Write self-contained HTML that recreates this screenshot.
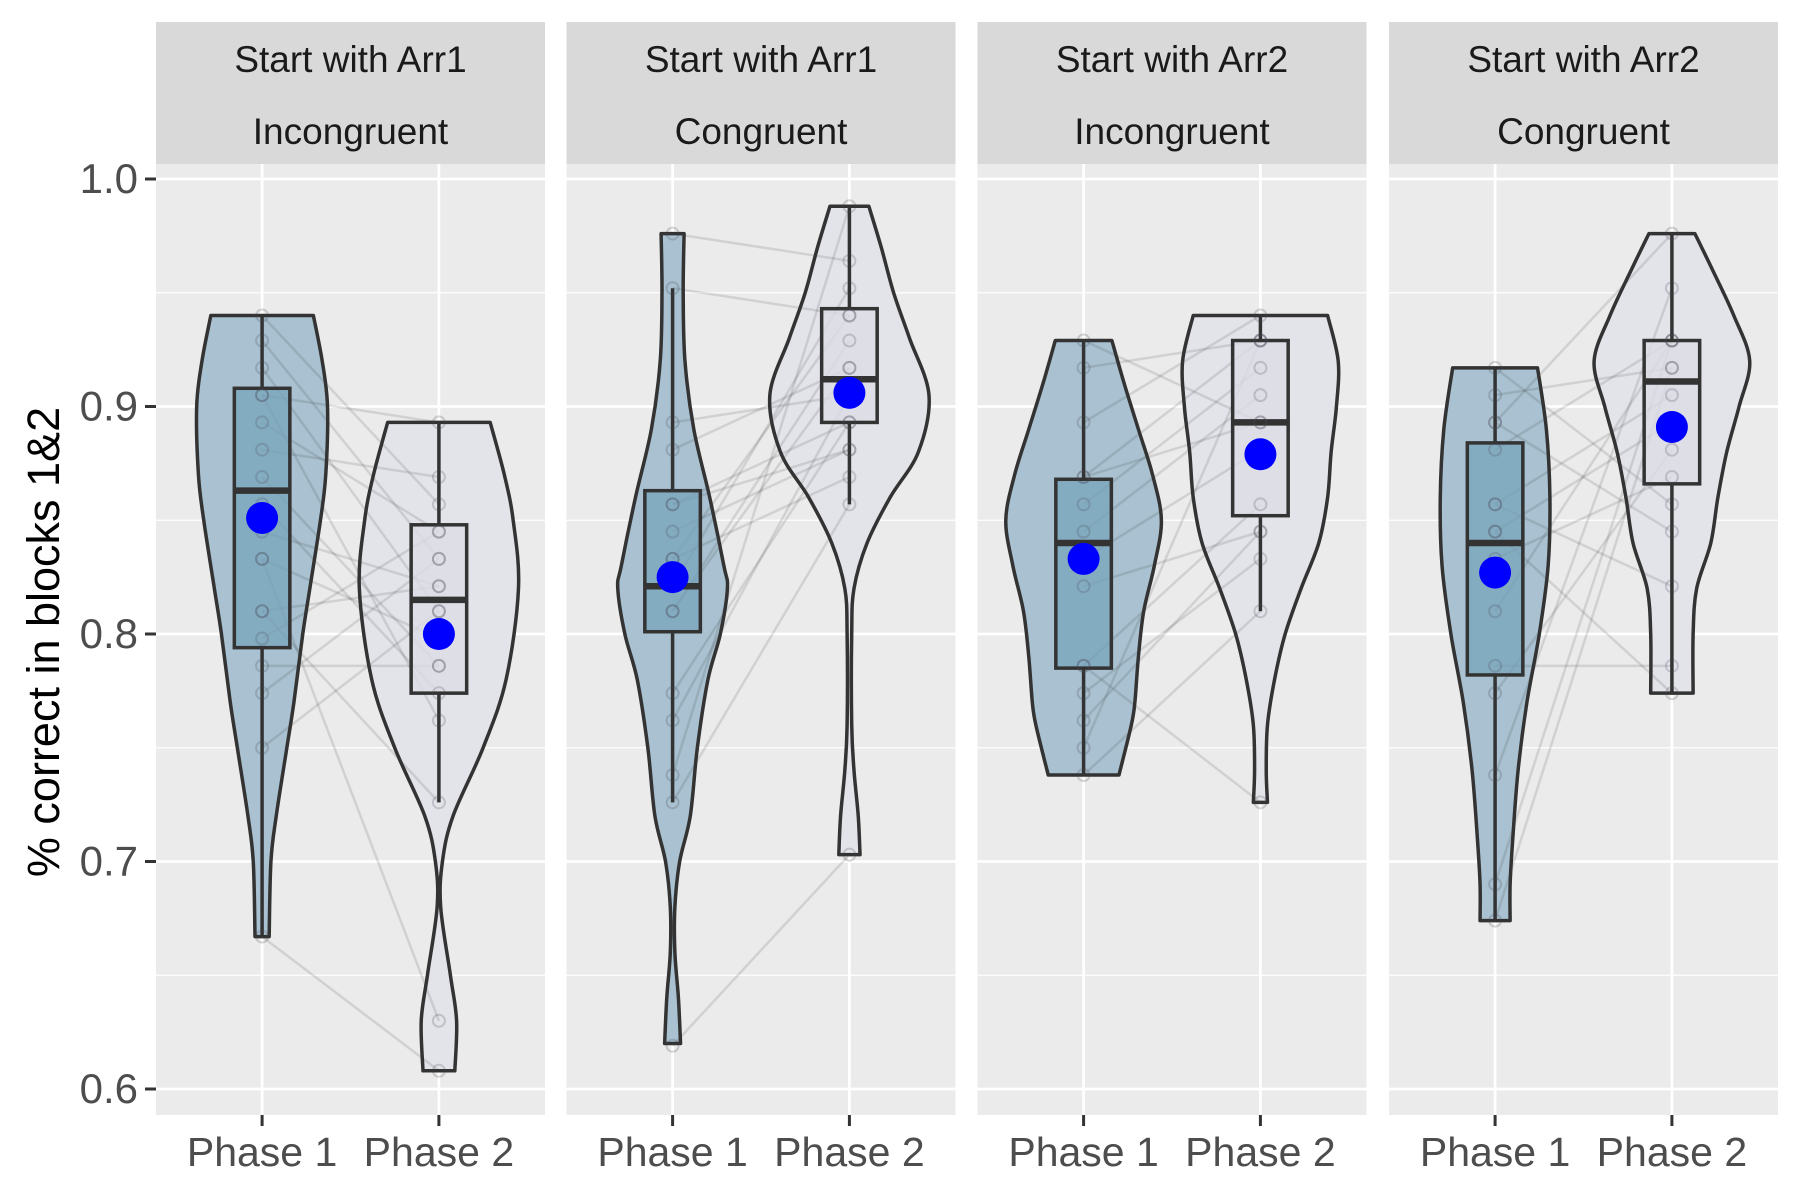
<!DOCTYPE html>
<html><head><meta charset="utf-8"><style>
html,body{margin:0;padding:0;background:#fff;}
svg{display:block;font-family:"Liberation Sans",Arial,sans-serif;}
</style></head><body>
<svg id="chart" width="1800" height="1200" viewBox="0 0 1800 1200" xmlns="http://www.w3.org/2000/svg"></svg>
<script>
const panelTitles1 = ["Start with Arr1","Start with Arr1","Start with Arr2","Start with Arr2"];
const panelTitles2 = ["Incongruent","Congruent","Incongruent","Congruent"];
const phases = ["Phase 1","Phase 2"];
const yTicks = [0.6,0.7,0.8,0.9,1.0];
const yTickLabels = ["0.6","0.7","0.8","0.9","1.0"];
// violin outlines: [value, half-width in category units]
const violinP1 = [
 [[0.94,0.29],[0.92,0.34],[0.90,0.37],[0.87,0.36],[0.85,0.33],[0.82,0.27],[0.80,0.23],[0.77,0.18],[0.75,0.14],[0.72,0.08],[0.70,0.05],[0.667,0.04]],
 [[0.976,0.065],[0.95,0.06],[0.92,0.07],[0.89,0.12],[0.86,0.21],[0.83,0.29],[0.82,0.31],[0.80,0.27],[0.78,0.2],[0.75,0.14],[0.72,0.1],[0.70,0.04],[0.68,0.013],[0.66,0.013],[0.64,0.033],[0.62,0.045]],
 [[0.929,0.16],[0.91,0.23],[0.89,0.31],[0.87,0.39],[0.85,0.44],[0.83,0.4],[0.81,0.34],[0.79,0.31],[0.77,0.29],[0.76,0.27],[0.738,0.2]],
 [[0.917,0.24],[0.89,0.29],[0.86,0.31],[0.83,0.3],[0.80,0.25],[0.77,0.18],[0.74,0.13],[0.71,0.1],[0.69,0.085],[0.674,0.085]]
];
const violinP2 = [
 [[0.893,0.29],[0.87,0.37],[0.85,0.42],[0.82,0.45],[0.78,0.38],[0.75,0.25],[0.72,0.08],[0.70,0.02],[0.68,0.01],[0.65,0.065],[0.63,0.1],[0.608,0.09]],
 [[0.988,0.11],[0.97,0.18],[0.95,0.25],[0.93,0.34],[0.905,0.45],[0.88,0.39],[0.86,0.23],[0.84,0.1],[0.82,0.026],[0.80,0.013],[0.76,0.013],[0.74,0.026],[0.72,0.05],[0.703,0.06]],
 [[0.94,0.38],[0.92,0.44],[0.90,0.43],[0.88,0.4],[0.86,0.38],[0.84,0.33],[0.82,0.23],[0.80,0.14],[0.78,0.08],[0.76,0.04],[0.74,0.033],[0.726,0.04]],
 [[0.976,0.13],[0.96,0.23],[0.94,0.35],[0.92,0.44],[0.90,0.38],[0.88,0.31],[0.86,0.26],[0.84,0.22],[0.82,0.14],[0.80,0.12],[0.774,0.12]]
];
// box stats: [lowWhisker, q1, median, q3, highWhisker]
const boxP1 = [[0.667,0.794,0.863,0.908,0.94],[0.726,0.801,0.821,0.863,0.952],[0.738,0.785,0.84,0.868,0.929],[0.674,0.782,0.84,0.884,0.917]];
const boxP2 = [[0.726,0.774,0.815,0.848,0.893],[0.857,0.893,0.912,0.943,0.988],[0.81,0.852,0.893,0.929,0.94],[0.774,0.866,0.911,0.929,0.976]];
const meanP1 = [0.851,0.825,0.833,0.827];
const meanP2 = [0.800,0.906,0.879,0.891];
// participant values phase 1 / phase 2
const subjP1 = [
 [0.94,0.929,0.917,0.905,0.893,0.881,0.869,0.857,0.845,0.833,0.81,0.798,0.786,0.774,0.75,0.667,0.833,0.905,0.81],
 [0.976,0.952,0.893,0.881,0.857,0.845,0.833,0.821,0.81,0.81,0.774,0.762,0.738,0.726,0.619,0.857,0.833],
 [0.929,0.917,0.893,0.869,0.857,0.845,0.833,0.821,0.786,0.774,0.762,0.75,0.738,0.786,0.869],
 [0.917,0.905,0.893,0.881,0.857,0.845,0.833,0.81,0.786,0.774,0.738,0.69,0.674,0.845,0.857,0.893]
];
const subjP2 = [
 [0.857,0.833,0.81,0.893,0.845,0.869,0.786,0.774,0.821,0.798,0.821,0.845,0.786,0.833,0.81,0.608,0.63,0.762,0.726],
 [0.964,0.94,0.905,0.917,0.893,0.881,0.869,0.952,0.929,0.917,0.893,0.905,0.988,0.857,0.703,0.881,0.94],
 [0.893,0.929,0.94,0.929,0.917,0.905,0.881,0.845,0.857,0.833,0.845,0.929,0.81,0.726,0.893],
 [0.857,0.917,0.845,0.929,0.905,0.893,0.869,0.929,0.786,0.881,0.952,0.929,0.917,0.774,0.821,0.976]
];

const NS="http://www.w3.org/2000/svg";
const svg=document.getElementById('chart');
const panelX=[156,566.5,977.5,1389], panelW=389, plotTop=164, plotBot=1115, stripTop=22;
const catW=panelW/2.2;
function yS(v){return 179+(1-v)*2275;}
function xS(p,c){return panelX[p]+(c+0.6)*catW;}
function mk(tag,attrs,parent){const e=document.createElementNS(NS,tag);for(const k in attrs)e.setAttribute(k,attrs[k]);(parent||svg).appendChild(e);return e;}
function smooth(P){
  let d='';
  for(let i=0;i<P.length-1;i++){
    const p0=P[Math.max(0,i-1)],p1=P[i],p2=P[i+1],p3=P[Math.min(P.length-1,i+2)];
    const c1=[p1[0]+(p2[0]-p0[0])/6,p1[1]+(p2[1]-p0[1])/6];
    const c2=[p2[0]-(p3[0]-p1[0])/6,p2[1]-(p3[1]-p1[1])/6];
    d+=' C'+c1[0]+','+c1[1]+' '+c2[0]+','+c2[1]+' '+p2[0]+','+p2[1];
  }
  return d;
}

for(let p=0;p<4;p++){
  const g=mk('g',{});
  
  
  const bg=mk('rect',{x:panelX[p],y:plotTop,width:panelW,height:plotBot-plotTop,fill:'#ebebeb'},g);
  
  
  for(let i=0;i<yTicks.length-1;i++){
    const v=(yTicks[i]+yTicks[i+1])/2;
    mk('line',{x1:panelX[p],x2:panelX[p]+panelW,y1:yS(v),y2:yS(v),stroke:'#fff','stroke-width':1.3},g);
  }
  yTicks.forEach(v=>mk('line',{x1:panelX[p],x2:panelX[p]+panelW,y1:yS(v),y2:yS(v),stroke:'#fff','stroke-width':2.7},g));
  [0,1].forEach(c=>mk('line',{x1:xS(p,c),x2:xS(p,c),y1:plotTop,y2:plotBot,stroke:'#fff','stroke-width':2.7},g));
  const st=mk('rect',{x:panelX[p],y:stripTop,width:panelW,height:plotTop-stripTop,fill:'#d9d9d9'},g);
  
  
  const t1=mk('text',{x:panelX[p]+panelW/2,y:72,'text-anchor':'middle','font-size':37,fill:'#1a1a1a'},g);
  t1.textContent=panelTitles1[p];
  
  
  const t2=mk('text',{x:panelX[p]+panelW/2,y:144,'text-anchor':'middle','font-size':37,fill:'#1a1a1a'},g);
  t2.textContent=panelTitles2[p];
  
  
  [[violinP1[p],'#a9c1d0'],[violinP2[p],'#e3e4ea']].forEach((vd,c)=>{
    const pts=vd[0], cx=xS(p,c);
    const right=pts.map(q=>[cx+q[1]*catW,yS(q[0])]);
    const left=pts.slice().reverse().map(q=>[cx-q[1]*catW,yS(q[0])]);
    let d='M'+right[0][0]+','+right[0][1]+smooth(right)+' L'+left[0][0]+','+left[0][1]+smooth(left)+' Z';
    const vp=mk('path',{d:d,fill:vd[1],stroke:'#333','stroke-width':3.5,'stroke-linejoin':'round'},g);
    
    
  });
  for(let i=0;i<subjP1[p].length;i++){
    const ln=mk('line',{x1:xS(p,0),y1:yS(subjP1[p][i]),x2:xS(p,1),y2:yS(subjP2[p][i]),stroke:'rgba(60,60,60,0.15)','stroke-width':2.5},g);
    
    
  }
  [[boxP1[p],'rgba(120,164,188,0.75)'],[boxP2[p],'rgba(220,220,230,0.8)']].forEach((bd,c)=>{
    const b=bd[0], cx=xS(p,c), hw=0.157*catW;
    mk('line',{x1:cx,x2:cx,y1:yS(b[0]),y2:yS(b[1]),stroke:'#333','stroke-width':3.5},g);
    mk('line',{x1:cx,x2:cx,y1:yS(b[3]),y2:yS(b[4]),stroke:'#333','stroke-width':3.5},g);
    const br=mk('rect',{x:cx-hw,y:yS(b[3]),width:2*hw,height:yS(b[1])-yS(b[3]),fill:bd[1],stroke:'#333','stroke-width':3.5},g);
    
    
    mk('line',{x1:cx-hw,x2:cx+hw,y1:yS(b[2]),y2:yS(b[2]),stroke:'#333','stroke-width':6.5},g);
  });
  [subjP1[p],subjP2[p]].forEach((arr,c)=>{
    arr.forEach(v=>{
      const pt=mk('circle',{cx:xS(p,c),cy:yS(v),r:6,fill:'none',stroke:'rgba(70,70,80,0.22)','stroke-width':2},g);
      
      
    });
  });
  [meanP1[p],meanP2[p]].forEach((m,c)=>{
    const mc=mk('circle',{cx:xS(p,c),cy:yS(m),r:16,fill:'#0000ff'},g);
    
    
  });
  phases.forEach((ph,c)=>{
    mk('line',{x1:xS(p,c),x2:xS(p,c),y1:plotBot,y2:plotBot+11,stroke:'#333','stroke-width':3},g);
    const tl=mk('text',{x:xS(p,c),y:1166,'text-anchor':'middle','font-size':41,fill:'#4d4d4d'},g);
    tl.textContent=ph;
    
    
  });
}
yTicks.forEach((v,i)=>{
  mk('line',{x1:145,x2:156,y1:yS(v),y2:yS(v),stroke:'#333','stroke-width':3});
  const tl=mk('text',{x:138,y:yS(v)+14,'text-anchor':'end','font-size':42,fill:'#4d4d4d'});
  tl.textContent=yTickLabels[i];
  
  
});
const yt=mk('text',{x:0,y:0,'text-anchor':'middle','font-size':45,fill:'#000',transform:'translate(59,642) rotate(-90)'});
yt.textContent='% correct in blocks 1&2';


</script>
</body></html>
